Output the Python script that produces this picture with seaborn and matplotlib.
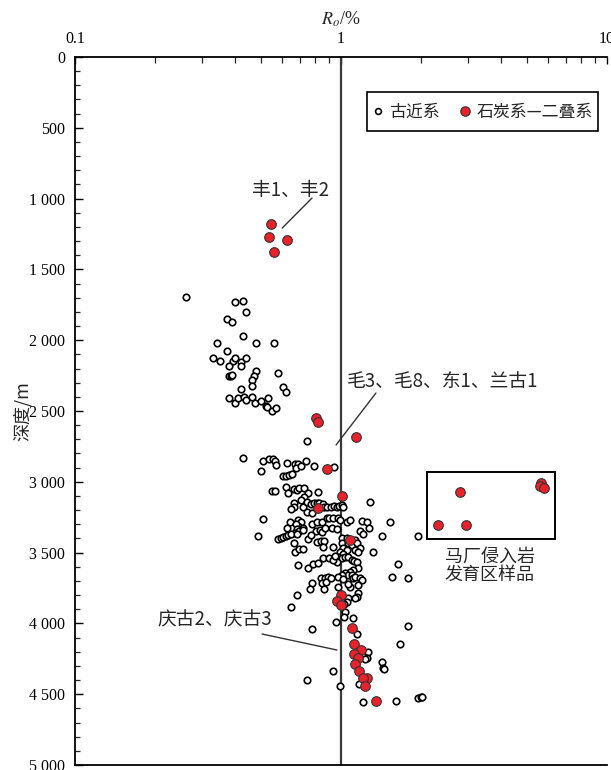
import numpy as np
import pandas as pd
import matplotlib
matplotlib.use("Agg")
import matplotlib.pyplot as plt
import seaborn as sns
from matplotlib.ticker import MultipleLocator, LogLocator, NullFormatter, FuncFormatter
from matplotlib.lines import Line2D
from matplotlib.patches import Rectangle

# ---------------- data ----------------
# 古近系 (Paleogene) samples: Ro (%) and depth (m)
pal_ro = [0.262, 0.400, 0.429, 0.440, 0.373, 0.390, 0.429, 0.343, 0.480, 0.561,
          0.373, 0.331, 0.352, 0.393, 0.400, 0.421, 0.440, 0.421, 0.380, 0.380,
          0.387, 0.390, 0.480, 0.472, 0.463, 0.463, 0.580, 0.421, 0.606, 0.622,
          0.380, 0.400, 0.411, 0.433, 0.440, 0.463, 0.476, 0.501, 0.532, 0.523,
          0.528, 0.551, 0.571, 0.746, 0.429, 0.510, 0.537, 0.556, 0.566, 0.571,
          0.627, 0.672, 0.690, 0.678, 0.708, 0.739, 0.792, 0.941, 0.501, 0.606,
          0.622, 0.638, 0.655, 0.622, 0.551, 0.566, 0.633, 0.666, 0.684, 0.696,
          0.726, 0.752, 0.726, 0.820, 0.708, 0.666, 0.666, 0.649, 0.720, 0.746,
          0.772, 0.792, 0.813, 0.827, 0.856, 0.864, 0.886, 0.917, 0.941, 0.966,
          0.983, 1.009, 1.017, 1.285, 0.746, 0.778, 0.510, 0.644, 0.690, 0.708,
          0.690, 0.678, 0.720, 0.684, 0.627, 0.672, 0.696, 0.778, 0.813, 0.849,
          0.886, 0.902, 0.933, 0.974, 0.991, 1.053, 1.081, 1.199, 1.251, 1.273,
          1.527, 0.806, 0.834, 0.849, 0.871, 0.925, 0.966, 1.178, 1.209, 1.425,
          1.945, 0.488, 0.580, 0.596, 0.606, 0.622, 0.633, 0.649, 0.684, 0.720,
          0.752, 0.772, 0.666, 0.813, 0.841, 0.864, 0.672, 0.696, 0.720, 0.856,
          0.933, 1.009, 1.053, 1.009, 1.062, 1.100, 1.129, 1.148, 1.178, 1.017,
          1.053, 1.129, 1.158, 0.991, 1.017, 0.974, 1.009, 1.035, 1.062, 0.966,
          1.318, 0.856, 0.902, 0.933, 0.949, 1.100, 1.119, 1.148, 1.158, 1.109,
          1.081, 1.035, 1.062, 1.009, 1.100, 1.109, 1.129, 1.178, 1.199, 1.158,
          1.081, 1.062, 1.636, 1.554, 1.784, 0.974, 1.017, 0.690, 0.752, 0.785,
          0.820, 0.841, 0.871, 0.894, 0.849, 0.879, 0.778, 0.765, 0.864, 0.917,
          0.974, 1.158, 1.148, 1.129, 1.062, 1.053, 1.026, 0.684, 0.649, 1.035,
          1.026, 1.109, 0.958, 0.778, 1.784, 1.148, 1.665, 1.262, 1.251, 1.230,
          1.425, 1.437, 1.450, 0.933, 0.746, 1.168, 0.991, 1.209, 1.608, 1.945,
          1.996, 2.014]
pal_depth = [1695, 1730, 1723, 1801, 1850, 1871, 1970, 2020, 2020, 2020,
             2076, 2126, 2147, 2147, 2126, 2154, 2126, 2182, 2182, 2253,
             2253, 2246, 2217, 2253, 2281, 2323, 2232, 2345, 2330, 2366,
             2408, 2443, 2408, 2401, 2422, 2401, 2443, 2429, 2408, 2465,
             2472, 2500, 2479, 2712, 2832, 2853, 2839, 2839, 2853, 2881,
             2867, 2874, 2874, 2902, 2888, 2853, 2888, 2895, 2924, 2959,
             2959, 2952, 2945, 3037, 3065, 3065, 3079, 3051, 3058, 3044,
             3044, 3079, 3107, 3072, 3128, 3150, 3178, 3192, 3178, 3143,
             3157, 3150, 3150, 3150, 3157, 3178, 3178, 3178, 3171, 3178,
             3171, 3164, 3178, 3143, 3213, 3220, 3263, 3284, 3270, 3284,
             3312, 3298, 3326, 3333, 3326, 3362, 3347, 3298, 3284, 3284,
             3256, 3256, 3256, 3256, 3270, 3284, 3270, 3277, 3284, 3326,
             3284, 3347, 3340, 3354, 3326, 3326, 3333, 3347, 3369, 3383,
             3383, 3383, 3404, 3397, 3390, 3383, 3376, 3369, 3369, 3340,
             3404, 3376, 3432, 3425, 3418, 3418, 3496, 3474, 3474, 3460,
             3460, 3397, 3397, 3432, 3432, 3446, 3411, 3432, 3467, 3467,
             3481, 3481, 3496, 3496, 3510, 3531, 3538, 3531, 3531, 3566,
             3496, 3538, 3538, 3552, 3524, 3552, 3559, 3566, 3609, 3623,
             3637, 3644, 3658, 3658, 3658, 3679, 3672, 3679, 3693, 3729,
             3743, 3722, 3580, 3672, 3679, 3672, 3686, 3587, 3609, 3580,
             3573, 3679, 3679, 3672, 3715, 3708, 3715, 3757, 3757, 3679,
             3743, 3785, 3813, 3821, 3821, 3849, 3863, 3800, 3884, 3919,
             3955, 3962, 3990, 4039, 4018, 4075, 4145, 4202, 4244, 4251,
             4273, 4315, 4322, 4336, 4400, 4428, 4442, 4555, 4548, 4527,
             4520, 4520]

# 石炭系—二叠系 (Carboniferous-Permian) samples
cp_ro = [0.546, 0.537, 0.627, 0.561, 0.806, 0.820, 1.139, 0.886, 1.009, 0.820,
         1.081, 1.000, 0.966, 1.000, 1.100, 1.119, 1.188, 1.119, 1.158, 1.129,
         1.168, 1.251, 1.209, 1.230, 1.353,
         2.31, 2.81, 2.945, 5.66, 5.58, 5.78]
cp_depth = [1179, 1271, 1292, 1377, 2549, 2578, 2684, 2910, 3100, 3185,
            3411, 3800, 3842, 3870, 4032, 4145, 4188, 4216, 4244, 4287,
            4336, 4386, 4386, 4442, 4548,
            3305, 3070, 3305, 3011, 3027, 3042]

series_names = ["古近系", "石炭系—二叠系"]
x_ticks = [0.1, 1, 10]
x_ticklabels = ["0.1", "1", "10"]
y_ticks = [0, 500, 1000, 1500, 2000, 2500, 3000, 3500, 4000, 4500, 5000]

# annotation anchors (data units)
box_ro = (2.10, 6.39)
box_depth = (2929, 3406)
ann_labels = ["丰1、丰2", "毛3、毛8、东1、兰古1", "庆古2、庆古3"]
ann_text_pos = [(0.644, 939), (1.053, 2288), (0.551, 3976)]
ann_line_ro = [(0.601, 0.778), (0.958, 1.353), (0.505, 0.966)]
ann_line_depth = [(1208, 996), (2740, 2373), (4075, 4188)]
ann_ha = ["center", "left", "right"]

# ---------------- style ----------------
sns.set_theme(style="white")
plt.rcParams["font.family"] = ["Liberation Serif", "Noto Sans CJK SC", "DejaVu Sans"]
plt.rcParams["mathtext.fontset"] = "stix"
CJK = ["Noto Sans CJK SC", "DejaVu Sans"]

fig = plt.figure(figsize=(6.11, 7.70), dpi=100)
ax = fig.add_axes([75 / 611, 5 / 770, 532 / 611, 708 / 770])

pal = pd.DataFrame({"Ro": pal_ro, "depth": pal_depth})
cp = pd.DataFrame({"Ro": cp_ro, "depth": cp_depth})

ax.axvline(1, color="#3a3a3a", lw=1.6, zorder=2)

sns.scatterplot(data=pal, x="Ro", y="depth", ax=ax, marker="o", s=22,
                color="white", edgecolor="black", linewidth=1.2, zorder=3,
                legend=False)
sns.scatterplot(data=cp, x="Ro", y="depth", ax=ax, marker="o", s=48,
                color="#e8212b", edgecolor="#333333", linewidth=0.8, zorder=4,
                legend=False)

ax.set_xscale("log")
ax.set_xlim(0.1, 10)
ax.set_ylim(5000, 0)

# x axis on top
ax.xaxis.tick_top()
ax.xaxis.set_label_position("top")
ax.set_xticks(x_ticks)
ax.set_xticklabels(x_ticklabels)
ax.xaxis.set_minor_locator(LogLocator(base=10, subs=np.arange(2, 10)))
ax.xaxis.set_minor_formatter(NullFormatter())
ax.tick_params(axis="x", which="major", direction="in", length=5, width=1,
               top=True, bottom=False, labelsize=11.5, pad=7, colors="black")
ax.tick_params(axis="x", which="minor", direction="in", length=4, width=0.9,
               top=True, bottom=False)
ax.set_xlabel(r"$R_o$/%", fontsize=13, labelpad=5)

# y axis
ax.set_yticks(y_ticks)
ax.yaxis.set_major_formatter(FuncFormatter(lambda v, p: f"{int(v):,}".replace(",", " ")))
ax.yaxis.set_minor_locator(MultipleLocator(100))
ax.tick_params(axis="y", which="major", direction="in", length=6, width=1,
               left=True, right=False, labelsize=11.5, pad=7, colors="black")
ax.tick_params(axis="y", which="minor", direction="in", length=3.5, width=0.9,
               left=True, right=False)
ax.set_ylabel("深度/m", fontsize=13, family=CJK, labelpad=-2)

for side in ["left", "top", "bottom"]:
    ax.spines[side].set_color("black")
    ax.spines[side].set_linewidth(1.3)
ax.spines["right"].set_visible(False)
ax.grid(False)

# box around the Machang intrusion samples
ax.add_patch(Rectangle((box_ro[0], box_depth[0]), box_ro[1] - box_ro[0],
                       box_depth[1] - box_depth[0], fill=False,
                       edgecolor="black", lw=1.4, zorder=3))
ax.text(3.62, 3595, "马厂侵入岩\n发育区样品", family=CJK, fontsize=13,
        ha="center", va="center", linespacing=1.0)

# annotations: leader lines and labels
for lab, (tx, ty), lx, ly, ha in zip(ann_labels, ann_text_pos, ann_line_ro,
                                     ann_line_depth, ann_ha):
    ax.plot(lx, ly, color="#333333", lw=1, zorder=2)
    ax.text(tx, ty, lab, family=CJK, fontsize=13.5, ha=ha, va="center")

# legend (frame drawn as a separate box in axes coordinates)
leg_x0, leg_x1 = 0.5489, 0.9831
leg_y0, leg_y1 = 0.8955, 0.9506
ax.add_patch(Rectangle((leg_x0, leg_y0), leg_x1 - leg_x0, leg_y1 - leg_y0,
                       transform=ax.transAxes, fill=True, facecolor="white",
                       edgecolor="black", lw=1.2, zorder=5))
handles = [
    Line2D([], [], ls="", marker="o", markersize=4.2, markerfacecolor="white",
           markeredgecolor="black", markeredgewidth=1.2),
    Line2D([], [], ls="", marker="o", markersize=6.8, markerfacecolor="#e8212b",
           markeredgecolor="#333333", markeredgewidth=0.8),
]
leg = ax.legend(handles, series_names, loc="center",
                bbox_to_anchor=((leg_x0 + leg_x1) / 2, (leg_y0 + leg_y1) / 2),
                ncol=2, frameon=False,
                prop={"family": CJK, "size": 12.2}, handletextpad=0.3,
                columnspacing=1.15, handlelength=0.7, borderpad=0,
                borderaxespad=0)
leg.set_zorder(6)

fig.savefig("out.png", dpi=100)
